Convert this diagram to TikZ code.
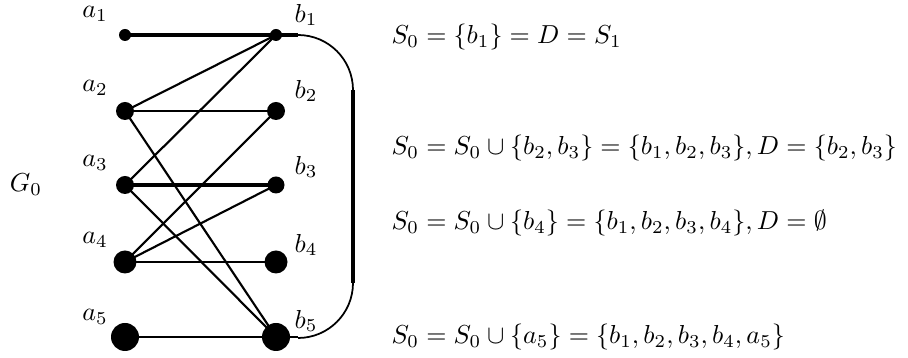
\RequirePackage{fix-cm}
\documentclass[tikz,border=0pt]{standalone}
\begin{document}
\begin{tikzpicture}[x=0.4pt,y=-0.4pt,
  font=\fontsize{10.4pt}{12.5pt}\selectfont,
  vtx/.style={circle,fill=black,inner sep=0pt,minimum size=#1},
  lbl/.style={inner sep=0pt},
  eq/.style={anchor=west,inner sep=0pt},
  thin edge/.style={line width=0.85pt},
  mid edge/.style={line width=1.0pt},
  thick edge/.style={line width=1.3pt}]
\useasboundingbox (0,0) rectangle (908,358);
% vertices
\node[vtx=12*0.4pt] (a1) at (125,35) {};
\node[vtx=18*0.4pt] (a2) at (125,111) {};
\node[vtx=18*0.4pt] (a3) at (125,185) {};
\node[vtx=23*0.4pt] (a4) at (125,262) {};
\node[vtx=28*0.4pt] (a5) at (125,337) {};
\node[vtx=12*0.4pt] (b1) at (276,35) {};
\node[vtx=18*0.4pt] (b2) at (276,111) {};
\node[vtx=17*0.4pt] (b3) at (276,185) {};
\node[vtx=23*0.4pt] (b4) at (276,262) {};
\node[vtx=28*0.4pt] (b5) at (276,337) {};
% labels
\node[lbl] (la1) at (95,14) {$a_1$};
\node[lbl] (la2) at (95,88) {$a_2$};
\node[lbl] (la3) at (95,163) {$a_3$};
\node[lbl] (la4) at (95,240) {$a_4$};
\node[lbl] (la5) at (95,317) {$a_5$};
\node[lbl] (lb1) at (306,15) {$b_1$};
\node[lbl] (lb2) at (306,91) {$b_2$};
\node[lbl] (lb3) at (306,167) {$b_3$};
\node[lbl] (lb4) at (306,245) {$b_4$};
\node[lbl] (lb5) at (306,321) {$b_5$};
\node[lbl] (G) at (26,185) {$G_0$};
% edges
\draw[thick edge] (a1.center) -- (b1.center);
\draw[mid edge] (a2.center) -- (b2.center);
\draw[thick edge] (a3.center) -- (b3.center);
\draw[mid edge] (a4.center) -- (b4.center);
\draw[mid edge] (a5.center) -- (b5.center);
\draw[thin edge] (a2.center) -- (b1.center);
\draw[thin edge] (a2.center) -- (b5.center);
\draw[thin edge] (a3.center) -- (b1.center);
\draw[thin edge] (a3.center) -- (b5.center);
\draw[thin edge] (a4.center) -- (b2.center);
\draw[thin edge] (a4.center) -- (b3.center);
% return curve
\coordinate (c1) at (298,35);
\coordinate (c2) at (353,90);
\coordinate (c3) at (353,283);
\coordinate (c4) at (298,337);
\draw[thick edge] (b1.center) -- (c1);
\draw[line width=0.7pt] (c1) arc[start angle=90,end angle=0,radius=55*0.4pt];
\draw[thick edge] (c2) -- (c3);
\draw[line width=0.7pt] (c3) arc[start angle=0,end angle=-90,radius=55*0.4pt];
\draw[mid edge] (c4) -- (b5.center);
% equations
\node[eq] (e1) at (391,37) {$S_0=\{b_1\}=D=S_1$};
\node[eq] (e2) at (391,148) {$S_0=S_0\cup\{b_2,b_3\}=\{b_1,b_2,b_3\},D=\{b_2,b_3\}$};
\node[eq] (e3) at (391,223) {$S_0=S_0\cup\{b_4\}=\{b_1,b_2,b_3,b_4\},D=\emptyset$};
\node[eq] (e4) at (391,337) {$S_0=S_0\cup\{a_5\}=\{b_1,b_2,b_3,b_4,a_5\}$};
\end{tikzpicture}
\end{document}
